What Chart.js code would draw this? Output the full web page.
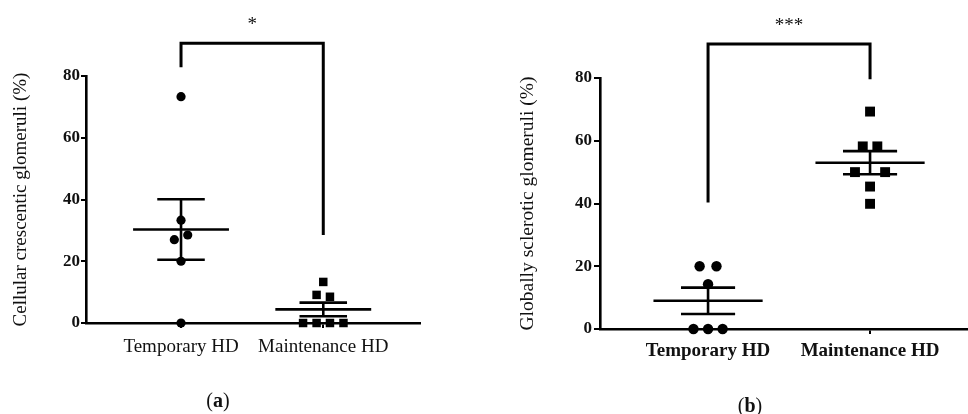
<!DOCTYPE html>
<html><head><meta charset="utf-8">
<script src="https://cdn.jsdelivr.net/npm/chart.js@4.4.1/dist/chart.umd.min.js"></script>
<style>
html,body{margin:0;padding:0;background:#fff;width:968px;height:414px;overflow:hidden;position:relative;font-family:'Liberation Serif','Times New Roman',serif;}
#ca{position:absolute;left:0;top:0;}
#cb{position:absolute;left:490px;top:0;}
.cap{position:absolute;font-size:20px;line-height:24px;color:#111;transform:translateX(-50%);white-space:nowrap;}
</style></head><body>
<canvas id="ca" width="460" height="414"></canvas>
<canvas id="cb" width="500" height="414"></canvas>
<div class="cap" style="left:218px;top:388px">(<b>a</b>)</div>
<div class="cap" style="left:750px;top:393px">(<b>b</b>)</div>
<script>
// ---- data ----
const categories = ['Temporary HD', 'Maintenance HD'];
const yTicks = [0, 20, 40, 60, 80];

// Panel (a): Cellular crescentic glomeruli (%)
const tempA = [73.3, 33.3, 28.5, 27.0, 20.0, 0];
const maintA = [13.3, 9.1, 8.5, 0, 0, 0, 0];
const meanA = [30.3, 4.4];
const semA = [9.8, 2.2];
const bracketA = [82.8, 90.6, 28.5];   // left leg end, bar level, right leg end
const starA = '*';

// Panel (b): Globally sclerotic glomeruli (%)
const tempB = [20.0, 20.0, 14.3, 0, 0, 0];
const maintB = [69.3, 58.2, 58.2, 50.0, 50.0, 45.4, 39.9];
const meanB = [9.0, 53.0];
const semB = [4.2, 3.7];
const bracketB = [40.3, 90.8, 79.6];
const starB = '***';

// horizontal spread of overlapping points (category units)
const jitTempA = [0, 0, 0.047, -0.047, 0, 0];
const jitMaintA = [0, -0.047, 0.047, -0.142, -0.047, 0.047, 0.142];
const jitTempB = [-0.052, 0.052, 0, -0.09, 0, 0.09];
const jitMaintB = [0, -0.045, 0.045, -0.093, 0.093, 0, 0];

// ---- drawing ----
const FAM = "'Liberation Serif','Times New Roman',serif";
const INK = '#000';

const sigPlugin = {
  id: 'sig',
  beforeDatasetsDraw(chart, args, o) {
    const {ctx} = chart;
    const x = chart.scales.x, y = chart.scales.y;
    const X = v => x.getPixelForValue(v), Y = v => y.getPixelForValue(v);
    ctx.save();
    ctx.strokeStyle = INK;
    ctx.lineWidth = 2.6;
    ctx.lineCap = 'butt';
    const seg = (x1, y1, x2, y2) => { ctx.beginPath(); ctx.moveTo(x1, y1); ctx.lineTo(x2, y2); ctx.stroke(); };
    o.mean.forEach((m, i) => {
      const c = i + 1, s = o.sem[i];
      seg(X(c - 0.337), Y(m), X(c + 0.337), Y(m));
      seg(X(c), Y(m - s), X(c), Y(m + s));
      seg(X(c - 0.167), Y(m + s), X(c + 0.167), Y(m + s));
      seg(X(c - 0.167), Y(m - s), X(c + 0.167), Y(m - s));
    });
    const b = o.bracket;
    ctx.lineWidth = 3;
    ctx.lineJoin = 'miter';
    ctx.beginPath();
    ctx.moveTo(X(1), Y(b[0]));
    ctx.lineTo(X(1), Y(b[1]));
    ctx.lineTo(X(2), Y(b[1]));
    ctx.lineTo(X(2), Y(b[2]));
    ctx.stroke();
    ctx.fillStyle = '#111';
    ctx.font = '19px ' + FAM;
    ctx.textAlign = 'center';
    ctx.textBaseline = 'alphabetic';
    ctx.fillText(o.star, X(1.5), Y(95));
    ctx.restore();
  }
};

function build(id, o) {
  return new Chart(document.getElementById(id), {
    type: 'scatter',
    data: {
      datasets: [
        { data: o.temp.map((v, i) => ({x: 1 + o.jt[i], y: v})), pointStyle: 'circle', pointRadius: o.cr,
          backgroundColor: INK, borderColor: INK, borderWidth: 0, clip: false },
        { data: o.maint.map((v, i) => ({x: 2 + o.jm[i], y: v})), pointStyle: 'rect', pointRadius: o.sr,
          backgroundColor: INK, borderColor: INK, borderWidth: 0, clip: false }
      ]
    },
    options: {
      responsive: false, animation: false, devicePixelRatio: 1, events: [],
      layout: {padding: {top: o.top, right: o.right, left: 0, bottom: 0}},
      plugins: {
        legend: {display: false}, tooltip: {enabled: false},
        sig: {mean: o.mean, sem: o.sem, bracket: o.bracket, star: o.star}
      },
      scales: {
        x: {
          type: 'linear', min: o.xmin, max: o.xmax,
          afterFit: s => { s.height = o.xh; },
          afterBuildTicks: s => { s.ticks = categories.map((c, i) => ({value: i + 1})); },
          ticks: {callback: (v, i) => categories[i], font: {family: FAM, size: 19, weight: o.catW},
                  color: '#111', padding: o.xpad, maxRotation: 0, autoSkip: false},
          grid: {display: true, drawOnChartArea: false, drawTicks: true, tickLength: 5, color: INK, lineWidth: 2},
          border: {display: true, color: INK, width: 2.6}
        },
        y: {
          min: 0, max: 80,
          afterFit: s => { s.width = o.yw; },
          afterBuildTicks: s => { s.ticks = yTicks.map(v => ({value: v})); },
          ticks: {font: {family: FAM, size: 17, weight: 'bold'}, color: '#111', padding: o.ypad},
          grid: {display: true, drawOnChartArea: false, drawTicks: true, tickLength: o.ytl, color: INK, lineWidth: 2},
          border: {display: true, color: INK, width: 2.6},
          title: {display: true, text: o.title, font: {family: FAM, size: o.ts}, color: '#111',
                  padding: {top: o.tp, bottom: 0}}
        }
      }
    },
    plugins: [sigPlugin]
  });
}

build('ca', {
  temp: tempA, maint: maintA, jt: jitTempA, jm: jitMaintA, mean: meanA, sem: semA,
  bracket: bracketA, star: starA, cr: 4.6, sr: 6,
  top: 76, right: 40, xh: 91, yw: 86, xmin: 0.332, xmax: 2.68,
  catW: 'normal', xpad: 8, ypad: 1, ytl: 5, tp: 10, ts: 19,
  title: 'Cellular crescentic glomeruli (%)'
});
build('cb', {
  temp: tempB, maint: maintB, jt: jitTempB, jm: jitMaintB, mean: meanB, sem: semB,
  bracket: bracketB, star: starB, cr: 5.2, sr: 7,
  top: 78, right: 20, xh: 85, yw: 110, xmin: 0.333, xmax: 2.617,
  catW: 'bold', xpad: 6, ypad: 2, ytl: 6, tp: 26, ts: 19.5,
  title: 'Globally sclerotic glomeruli (%)'
});
</script>
</body></html>
